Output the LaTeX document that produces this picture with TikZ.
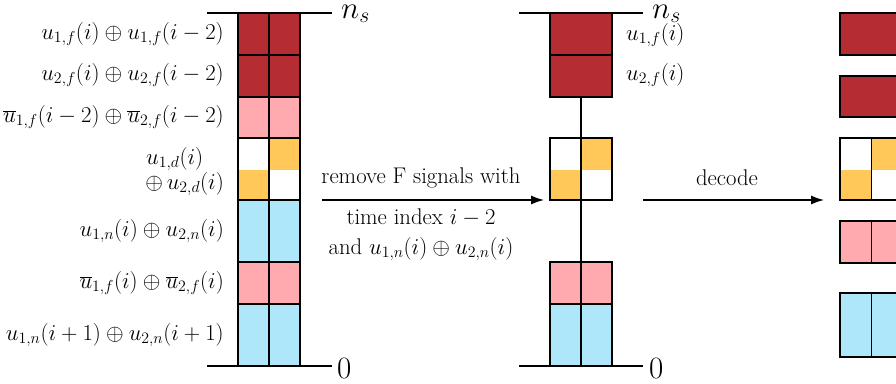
\RequirePackage{fix-cm}
\documentclass[tikz,border=0pt]{standalone}
\usetikzlibrary{arrows.meta}
\definecolor{dred}{RGB}{181,45,50}
\definecolor{lpink}{RGB}{255,170,175}
\definecolor{lorange}{RGB}{255,200,88}
\definecolor{lblue}{RGB}{174,230,250}
\begin{document}
\begin{tikzpicture}[x=1pt,y=-1pt,
  cell/.style={draw=black,line width=1.4pt},
  axis/.style={line width=1.4pt},
  lab/.style={font=\fontsize{22.7}{26}\selectfont,inner sep=0pt},
  big/.style={font=\fontsize{31}{34}\selectfont,inner sep=0pt,anchor=base west},
  arr/.style={line width=1.2pt,-{Latex[length=13pt,width=9pt]}}]
\useasboundingbox (0,0) rectangle (896,383);
\clip (0,0) rectangle (896,383);
% ---------- left column ----------
\draw[axis] (207,13) -- (332,13);
\draw[axis] (207,366) -- (332,366);
\node[big] (ns1) at (341,18) {$n_s$};
\node[big] (z1) at (337,378) {$0$};
\fill[dred] (238,13) rectangle (300,97);
\fill[lpink] (238,97) rectangle (300,138);
\fill[white] (238,138) rectangle (300,200);
\fill[lorange] (269,138) rectangle (300,170);
\fill[lorange] (238,170) rectangle (269,200);
\fill[lblue] (238,200) rectangle (300,262);
\fill[lpink] (238,262) rectangle (300,304);
\fill[lblue] (238,304) rectangle (300,366);
\foreach \a/\b in {13/55,55/97,97/138,138/200,200/262,262/304,304/366}{
  \draw[cell] (238,\a) rectangle (300,\b);
}
\draw[cell] (269,13) -- (269,366);
\node[lab,anchor=east] (l1) at (224,34) {$u_{1,f}(i)\oplus u_{1,f}(i-2)$};
\node[lab,anchor=east] (l2) at (224,75) {$u_{2,f}(i)\oplus u_{2,f}(i-2)$};
\node[lab,anchor=east] (l3) at (224,117) {$\overline{u}_{1,f}(i-2)\oplus \overline{u}_{2,f}(i-2)$};
\node[lab,anchor=west] (l4a) at (146,159) {$u_{1,d}(i)$};
\node[lab,anchor=east] (l4b) at (224,184) {$\oplus\, u_{2,d}(i)$};
\node[lab,anchor=east] (l5) at (224,231) {$u_{1,n}(i)\oplus u_{2,n}(i)$};
\node[lab,anchor=east] (l6) at (224,283) {$\overline{u}_{1,f}(i)\oplus \overline{u}_{2,f}(i)$};
\node[lab,anchor=east] (l7) at (224,335) {$u_{1,n}(i+1)\oplus u_{2,n}(i+1)$};
% ---------- middle column ----------
\draw[axis] (519,13) -- (643,13);
\draw[axis] (519,366) -- (643,366);
\node[big] (ns2) at (652,18) {$n_s$};
\node[big] (z2) at (649,378) {$0$};
\draw[axis] (581,97) -- (581,138);
\draw[axis] (581,200) -- (581,262);
\fill[dred] (550,13) rectangle (612,97);
\draw[cell] (550,13) rectangle (612,55);
\draw[cell] (550,55) rectangle (612,97);
\fill[white] (550,138) rectangle (612,200);
\fill[lorange] (581,138) rectangle (612,170);
\fill[lorange] (550,170) rectangle (581,200);
\draw[cell] (550,138) rectangle (612,200);
\draw[cell] (581,138) -- (581,200);
\fill[lpink] (550,262) rectangle (612,304);
\fill[lblue] (550,304) rectangle (612,366);
\draw[cell] (550,262) rectangle (612,304);
\draw[cell] (550,304) rectangle (612,366);
\draw[cell] (581,262) -- (581,366);
\node[lab,anchor=west] (m1) at (626,35) {$u_{1,f}(i)$};
\node[lab,anchor=west] (m2) at (626,75) {$u_{2,f}(i)$};
% ---------- right column ----------
\fill[dred] (840,13) rectangle (903,55);
\draw[cell] (840,13) rectangle (903,55);
\fill[dred] (840,76) rectangle (903,117);
\draw[cell] (840,76) rectangle (903,117);
\fill[white] (840,138) rectangle (903,200);
\fill[lorange] (871.5,138) rectangle (903,170);
\fill[lorange] (840,170) rectangle (871.5,200);
\draw[cell] (840,138) rectangle (903,200);
\draw[cell] (871.5,138) -- (871.5,200);
\fill[lpink] (840,221) rectangle (903,263);
\draw[cell] (840,221) rectangle (903,263);
\draw[cell] (871.5,221) -- (871.5,263);
\fill[lblue] (840,293) rectangle (903,357);
\draw[cell] (840,293) rectangle (903,357);
\draw[cell] (871.5,293) -- (871.5,357);
% ---------- arrows ----------
\coordinate (a1s) at (322,200);
\coordinate (a1e) at (544,200);
\draw[arr] (a1s) -- (a1e);
\node[lab] (t1) at (421,178) {remove F signals with};
\node[lab] (t2) at (421,218) {time index $i-2$};
\node[lab] (t3) at (421,249) {and $u_{1,n}(i)\oplus u_{2,n}(i)$};
\coordinate (a2s) at (643,200);
\coordinate (a2e) at (824,200);
\draw[arr] (a2s) -- (a2e);
\node[lab] (t4) at (727,178) {decode};
\end{tikzpicture}
\end{document}
